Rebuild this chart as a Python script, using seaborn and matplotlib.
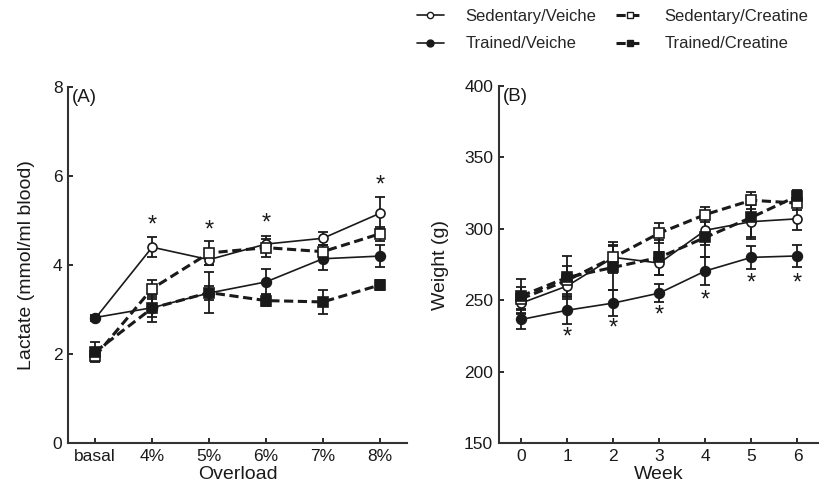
import numpy as np
import pandas as pd
import matplotlib
matplotlib.use("Agg")
import matplotlib.pyplot as plt
import seaborn as sns
from matplotlib.lines import Line2D

# ---------------- data ----------------
overload = ['basal', '4%', '5%', '6%', '7%', '8%']
lac_sed_veh = [2.80, 4.40, 4.12, 4.47, 4.60, 5.16]
lac_sed_veh_err = [0.05, 0.23, 0.12, 0.18, 0.14, 0.36]
lac_trn_veh = [2.82, 3.04, 3.37, 3.62, 4.14, 4.20]
lac_trn_veh_err = [0.05, 0.20, 0.15, 0.28, 0.25, 0.24]
lac_sed_cre = [1.95, 3.47, 4.27, 4.39, 4.30, 4.70]
lac_sed_cre_err = [0.10, 0.19, 0.27, 0.20, 0.15, 0.15]
lac_trn_cre = [2.05, 3.03, 3.38, 3.20, 3.17, 3.55]
lac_trn_cre_err = [0.22, 0.30, 0.46, 0.13, 0.27, 0.12]
lac_star_cats = ['4%', '5%', '6%', '8%']
lac_star_y = [4.89, 4.78, 4.93, 5.79]

weeks = [0, 1, 2, 3, 4, 5, 6]
wt_sed_veh = [248, 260, 280, 276, 299, 305, 307]
wt_sed_veh_err = [8, 8, 8, 8, 10, 12, 8]
wt_trn_veh = [236.5, 243, 248, 255, 270.5, 280, 281]
wt_trn_veh_err = [7, 10, 9, 6, 10, 8, 8]
wt_sed_cre = [251, 264, 280, 297, 310, 320, 318]
wt_sed_cre_err = [8, 10, 11, 7, 5, 6, 5]
wt_trn_cre = [253, 266, 273, 280, 294, 308, 323]
wt_trn_cre_err = [12, 15, 16, 12, 14, 14, 4]
wt_star_weeks = [1, 2, 3, 4, 5, 6]
wt_star_y = [224, 230, 239, 250, 262, 262]

series_names = ['Sedentary/Veiche', 'Trained/Veiche', 'Sedentary/Creatine', 'Trained/Creatine']

# ---------------- style ----------------
sns.set_theme(style="ticks")
plt.rcParams['font.family'] = ['Liberation Sans', 'DejaVu Sans']
INK = '#1a1a1a'
SPINE = '#333333'

styles = {
    'Sedentary/Veiche':   dict(ls='-',  lw=1.2, marker='o', mfc='white', ms=6.5),
    'Trained/Veiche':     dict(ls='-',  lw=1.2, marker='o', mfc=INK,     ms=7),
    'Sedentary/Creatine': dict(ls=(0, (3, 1.5)), lw=2.2, marker='s', mfc='white', ms=6.5),
    'Trained/Creatine':   dict(ls=(0, (3, 1.5)), lw=2.2, marker='s', mfc=INK,     ms=7),
}

fig = plt.figure(figsize=(8.19, 4.86), dpi=100)
axA = fig.add_axes([0.083, 0.0885, 0.414, 0.7325])
axB = fig.add_axes([0.609, 0.0885, 0.390, 0.7345])


def draw(ax, xs, ys_list, errs_list):
    for name, ys, es in zip(series_names, ys_list, errs_list):
        st = styles[name]
        df = pd.DataFrame({'x': xs, 'y': ys})
        ax.errorbar(xs, ys, yerr=es, fmt='none', ecolor=INK, elinewidth=1.3,
                    capsize=3.5, capthick=1.3, zorder=2)
        sns.lineplot(data=df, x='x', y='y', ax=ax, color=INK, linestyle=st['ls'],
                     linewidth=st['lw'], marker=st['marker'], markersize=st['ms'],
                     markerfacecolor=st['mfc'], markeredgecolor=INK, markeredgewidth=1.2,
                     zorder=3, legend=False)


xa = list(range(len(overload)))
draw(axA, xa, [lac_sed_veh, lac_trn_veh, lac_sed_cre, lac_trn_cre],
     [lac_sed_veh_err, lac_trn_veh_err, lac_sed_cre_err, lac_trn_cre_err])
for c, y in zip(lac_star_cats, lac_star_y):
    axA.text(overload.index(c), y, '*', ha='center', va='center', fontsize=17, color=INK)
axA.set_xlim(-0.48, 5.48)
axA.set_ylim(0, 8)
axA.set_yticks([0, 2, 4, 6, 8])
axA.set_xticks(xa)
axA.set_xticklabels(overload)
axA.set_xlabel('Overload', fontsize=14, color=INK, labelpad=2)
axA.set_ylabel('Lactate (mmol/ml blood)', fontsize=14, color=INK, labelpad=13)
axA.text(0.012, 0.995, '(A)', transform=axA.transAxes, ha='left', va='top', fontsize=13.5, color=INK)

draw(axB, weeks, [wt_sed_veh, wt_trn_veh, wt_sed_cre, wt_trn_cre],
     [wt_sed_veh_err, wt_trn_veh_err, wt_sed_cre_err, wt_trn_cre_err])
for w, y in zip(wt_star_weeks, wt_star_y):
    axB.text(w, y, '*', ha='center', va='center', fontsize=17, color=INK)
axB.set_xlim(-0.49, 6.45)
axB.set_ylim(150, 400)
axB.set_yticks([150, 200, 250, 300, 350, 400])
axB.set_xticks(weeks)
axB.set_xlabel('Week', fontsize=14, color=INK, labelpad=2)
axB.set_ylabel('Weight (g)', fontsize=14, color=INK, labelpad=11)
axB.text(0.012, 0.995, '(B)', transform=axB.transAxes, ha='left', va='top', fontsize=13.5, color=INK)

for ax in (axA, axB):
    sns.despine(ax=ax)
    for s in ('left', 'bottom'):
        ax.spines[s].set_linewidth(1.5)
        ax.spines[s].set_color(SPINE)
    ax.tick_params(axis='both', labelsize=12.5, colors=INK, width=1.3, length=3.5,
                   direction='in', pad=4)
    ax.grid(False)

handles = []
for name in series_names:
    st = styles[name]
    handles.append(Line2D([], [], color=INK, linestyle=st['ls'], linewidth=st['lw'],
                          marker=st['marker'], markersize=st['ms'] - 2,
                          markerfacecolor=st['mfc'], markeredgecolor=INK))
fig.legend(handles, series_names, ncol=2, loc='upper left', bbox_to_anchor=(417 / 819, 1 - 9 / 486),
           frameon=False, fontsize=12, handlelength=1.6, handletextpad=1.3,
           columnspacing=1.2, labelspacing=0.75, borderaxespad=0, borderpad=0)

fig.savefig('out.png', dpi=100)
